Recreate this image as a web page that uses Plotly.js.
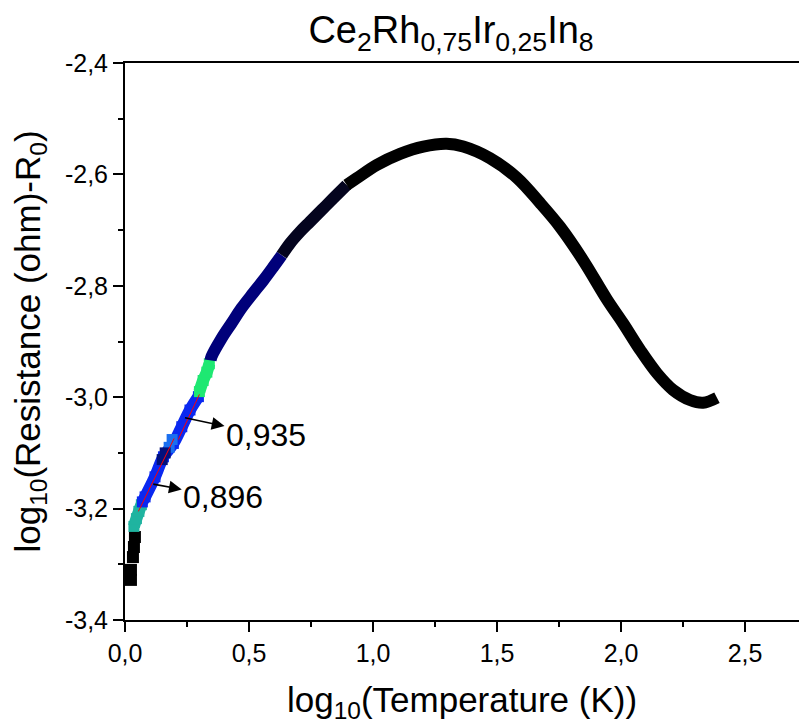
<!DOCTYPE html>
<html>
<head>
<meta charset="utf-8">
<script src="https://cdn.plot.ly/plotly-3.0.1.min.js"></script>
<style>html,body{margin:0;padding:0;background:#fff;overflow:hidden}</style>
</head>
<body>
<div id="chart" style="width:799px;height:724px"></div>
<script>
// ---- data (log10 T, log10(R)-R0) ----
const xBlackLow = [0.024, 0.024, 0.032, 0.036, 0.040];
const yBlackLow = [-3.328, -3.310, -3.287, -3.269, -3.251];

const xTeal = [0.036, 0.046, 0.056, 0.066];
const yTeal = [-3.232, -3.218, -3.205, -3.193];

const xBlue = [0.070, 0.081, 0.121, 0.155, 0.195, 0.229, 0.262, 0.296];
const yBlue = [-3.188, -3.179, -3.143, -3.107, -3.083, -3.053, -3.023, -2.999];

const xLightBlue = [0.178, 0.190];
const yLightBlue = [-3.090, -3.076];

const xNavyDot = [0.150, 0.162];
const yNavyDot = [-3.112, -3.100];

const xGreen = [0.300, 0.315, 0.330, 0.340];
const yGreen = [-2.990, -2.970, -2.955, -2.940];

const xNavy = [0.345, 0.349, 0.390, 0.430, 0.470, 0.517, 0.558, 0.598, 0.632];
const yNavy = [-2.934, -2.927, -2.894, -2.867, -2.840, -2.813, -2.790, -2.766, -2.745];

const xDark = [0.632, 0.665, 0.706, 0.746, 0.793, 0.840, 0.894];
const yDark = [-2.745, -2.724, -2.703, -2.685, -2.664, -2.643, -2.619];

const xBlack = [0.894, 0.934, 1.015, 1.109, 1.203, 1.297, 1.364, 1.472, 1.580, 1.673, 1.754, 1.847, 1.944, 2.008, 2.077, 2.145, 2.210, 2.278, 2.331, 2.387];
const yBlack = [-2.619, -2.607, -2.583, -2.563, -2.550, -2.545, -2.550, -2.571, -2.606, -2.651, -2.694, -2.754, -2.825, -2.867, -2.915, -2.957, -2.987, -3.005, -3.010, -3.001];

// linear fits (red)
const xFit1 = [0.054, 0.198];
const yFit1 = [-3.205, -3.074];
const xFit2 = [0.215, 0.300];
const yFit2 = [-3.076, -2.995];

// slope labels
const fitLabels = ['0,935', '0,896'];
const fitLabelX = [0.242, 0.114];
const fitLabelY = [-3.037, -3.156];

// tick labels
const xTickVals = [0, 0.5, 1.0, 1.5, 2.0, 2.5];
const xTickText = ['0,0', '0,5', '1,0', '1,5', '2,0', '2,5'];
const yTickVals = [-3.4, -3.2, -3.0, -2.8, -2.6, -2.4];
const yTickText = ['-3,4', '-3,2', '-3,0', '-2,8', '-2,6', '-2,4'];

// ---- build traces ----
const FONT = 'Liberation Sans, Arial, Helvetica, sans-serif';
function band(x, y, color, w, withMarkers) {
  return {
    x: x, y: y, type: 'scatter', mode: withMarkers ? 'lines+markers' : 'lines',
    line: {color: color, width: w, shape: 'spline'},
    marker: {symbol: 'square', size: w - 1, color: color, line: {width: 0}},
    hoverinfo: 'x+y'
  };
}
function dots(x, y, color, s) {
  return {
    x: x, y: y, type: 'scatter', mode: 'markers',
    marker: {symbol: 'square', size: s, color: color, line: {width: 0}},
    hoverinfo: 'x+y'
  };
}
function fit(x, y) {
  return {x: x, y: y, type: 'scatter', mode: 'lines',
    line: {color: '#ff0000', width: 1}, hoverinfo: 'skip'};
}

const traces = [
  dots(xBlackLow, yBlackLow, '#000000', 12),
  band(xTeal, yTeal, '#1fb4a0', 12, true),
  band(xBlue, yBlue, '#0a28f0', 12, true),
  dots(xLightBlue, yLightBlue, '#1a6ff0', 11),
  dots(xNavyDot, yNavyDot, '#00107c', 11),
  band(xGreen, yGreen, '#1ee872', 12, true),
  band(xNavy, yNavy, '#00007a', 12, false),
  band(xDark, yDark, '#04041e', 12, false),
  band(xBlack, yBlack, '#000000', 12, false),
  fit(xFit1, yFit1),
  fit(xFit2, yFit2)
];

const labelOffsets = [[81, 17], [70, 13]];
const annotations = fitLabels.map((t, i) => ({
  x: fitLabelX[i], y: fitLabelY[i], xref: 'x', yref: 'y',
  text: t, showarrow: true, arrowside: 'start',
  ax: labelOffsets[i][0], ay: labelOffsets[i][1],
  arrowhead: 2, arrowsize: 2, startarrowhead: 2, startarrowsize: 1.6,
  arrowwidth: 1.6, arrowcolor: '#000',
  font: {family: FONT, size: 32, color: '#000'}
}));

const axisCommon = {
  showline: true, linewidth: 2, linecolor: '#000',
  ticks: 'outside', ticklen: 10, tickwidth: 2, tickcolor: '#000',
  showgrid: false, zeroline: false,
  tickfont: {family: FONT, size: 25, color: '#000'},
  tickmode: 'array'
};

const layout = {
  width: 799, height: 724,
  margin: {l: 125, r: 0, t: 63, b: 104},
  paper_bgcolor: '#ffffff', plot_bgcolor: '#ffffff',
  showlegend: false,
  font: {family: FONT, color: '#000'},
  title: {
    text: 'Ce<sub>2</sub>Rh<sub>0,75</sub>Ir<sub>0,25</sub>In<sub>8</sub>',
    font: {family: FONT, size: 38, color: '#000'},
    x: 0.5645, xanchor: 'center', xref: 'container',
    y: 1 - 43 / 724, yanchor: 'bottom', yref: 'container'
  },
  xaxis: Object.assign({}, axisCommon, {
    range: [0, 674 / 248], mirror: true,
    tickvals: xTickVals, ticktext: xTickText,
    minor: {dtick: 0.25, tick0: 0, ticks: 'outside', ticklen: 5, tickwidth: 2, tickcolor: '#000', showgrid: false},
    title: {text: 'log<sub>10</sub>(Temperature (K))', font: {family: FONT, size: 35, color: '#000'}, standoff: 22}
  }),
  yaxis: Object.assign({}, axisCommon, {
    range: [-3.4, -2.4],
    tickvals: yTickVals, ticktext: yTickText,
    minor: {dtick: 0.1, tick0: -3.4, ticks: 'outside', ticklen: 5, tickwidth: 2, tickcolor: '#000', showgrid: false},
    title: {text: 'log<sub>10</sub>(Resistance (ohm)-R<sub>0</sub>)', font: {family: FONT, size: 35, color: '#000'}, standoff: 14}
  }),
  annotations: annotations
};

Plotly.newPlot('chart', traces, layout, {displayModeBar: false, staticPlot: true});
</script>
</body>
</html>
